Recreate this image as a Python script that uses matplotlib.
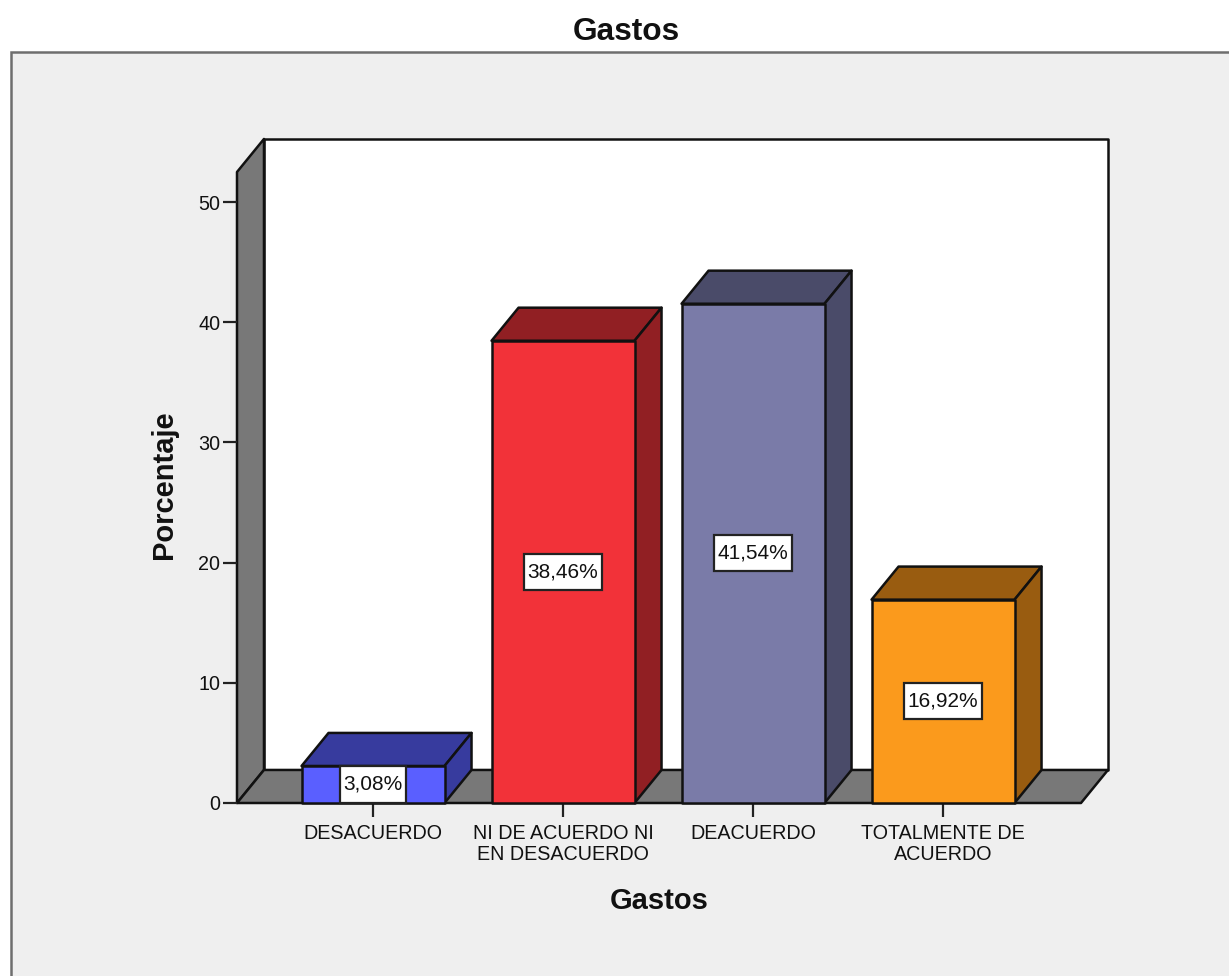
import matplotlib
matplotlib.use("Agg")
import matplotlib.pyplot as plt
from matplotlib.patches import Polygon, Rectangle

plt.rcParams['font.family'] = ['Liberation Sans', 'DejaVu Sans']

categories = ["DESACUERDO", "NI DE ACUERDO NI\nEN DESACUERDO", "DEACUERDO", "TOTALMENTE DE\nACUERDO"]
values = [3.08, 38.46, 41.54, 16.92]
value_labels = ["3,08%", "38,46%", "41,54%", "16,92%"]
y_ticks = [0, 10, 20, 30, 40, 50]
front_colors = ["#5A5FFF", "#F23239", "#7A7BA8", "#FB9A1C"]
shade_colors = ["#373B9E", "#911F23", "#4A4B69", "#995C10"]

W, H = 1229, 976
fig = plt.figure(figsize=(W / 100, H / 100), dpi=100, facecolor="white")

# Grey panel behind the plot, running off the right and bottom edges
fig.patches.append(Rectangle((11 / W, -0.05), 1.05, 1 - 52 / H + 0.05, transform=fig.transFigure,
                             facecolor="#EFEFEF", edgecolor="#6E6E6E", linewidth=1.8, zorder=-1))

# Axes span the front plane of the 3D box
ax = fig.add_axes([237 / W, 1 - 803 / H, (1081 - 237) / W, (803 - 172) / H])
ax.set_xlim(-0.716, 3.726)
ax.set_ylim(0, 52.5)
ax.patch.set_alpha(0)

DX, DY = 0.142, 2.75     # depth offset of the box in data units
BAR_W = 0.7526
LABEL_BOX_H = 3.0        # height of the value boxes in data units
x0, x1 = ax.get_xlim()
y0, y1 = ax.get_ylim()
EDGE = dict(edgecolor="#111111", linewidth=1.8, joinstyle="round", clip_on=False)
renderer = fig.canvas.get_renderer()


def poly(points, color, z):
    ax.add_patch(Polygon(points, closed=True, facecolor=color, zorder=z, **EDGE))


# Back wall, side wall and floor
poly([(x0 + DX, y0 + DY), (x1 + DX, y0 + DY), (x1 + DX, y1 + DY), (x0 + DX, y1 + DY)], "white", 1)
poly([(x0, y0), (x0 + DX, y0 + DY), (x0 + DX, y1 + DY), (x0, y1)], "#787878", 1.1)
poly([(x0, y0), (x1, y0), (x1 + DX, y0 + DY), (x0 + DX, y0 + DY)], "#787878", 1.1)

# Extruded bars with their value boxes
for i, (v, front, shade, text) in enumerate(zip(values, front_colors, shade_colors, value_labels)):
    l, r = i - BAR_W / 2, i + BAR_W / 2
    poly([(l, v), (r, v), (r + DX, v + DY), (l + DX, v + DY)], shade, 2)
    poly([(r, 0), (r + DX, DY), (r + DX, v + DY), (r, v)], shade, 2)
    poly([(l, 0), (r, 0), (r, v), (l, v)], front, 3)
    label = ax.text(i, v / 2, text, ha="center", va="center", fontsize=15, color="#111111", zorder=5)
    # Box width follows the text width, height is fixed
    box_w = label.get_window_extent(renderer).width / ax.get_window_extent(renderer).width * (x1 - x0) + 0.04
    ax.add_patch(Rectangle((i - box_w / 2, v / 2 - LABEL_BOX_H / 2), box_w, LABEL_BOX_H, facecolor="white",
                           edgecolor="#222222", linewidth=1.6, zorder=4, clip_on=False))

ax.set_xticks(range(len(categories)), categories)
ax.set_yticks(y_ticks)
ax.tick_params(axis="both", length=10, width=1.6, color="#222222", labelsize=14.2, labelcolor="#111111")
ax.tick_params(axis="x", pad=5)
ax.tick_params(axis="y", pad=2)
for tick_label in ax.get_xticklabels():
    tick_label.set_linespacing(1.13)
for spine in ax.spines.values():
    spine.set_visible(False)

ax.set_xlabel("Gastos", fontsize=21, fontweight="bold", labelpad=17, color="#111111")
ax.set_ylabel("Porcentaje", fontsize=21, fontweight="bold", color="#111111")
ax.yaxis.set_label_coords(-0.070, 0.505)
fig.text(626 / W, 1 - 32.5 / H, "Gastos", ha="center", va="center", fontsize=22.8, fontweight="bold", color="#111111")

fig.savefig("out.png", dpi=100)
